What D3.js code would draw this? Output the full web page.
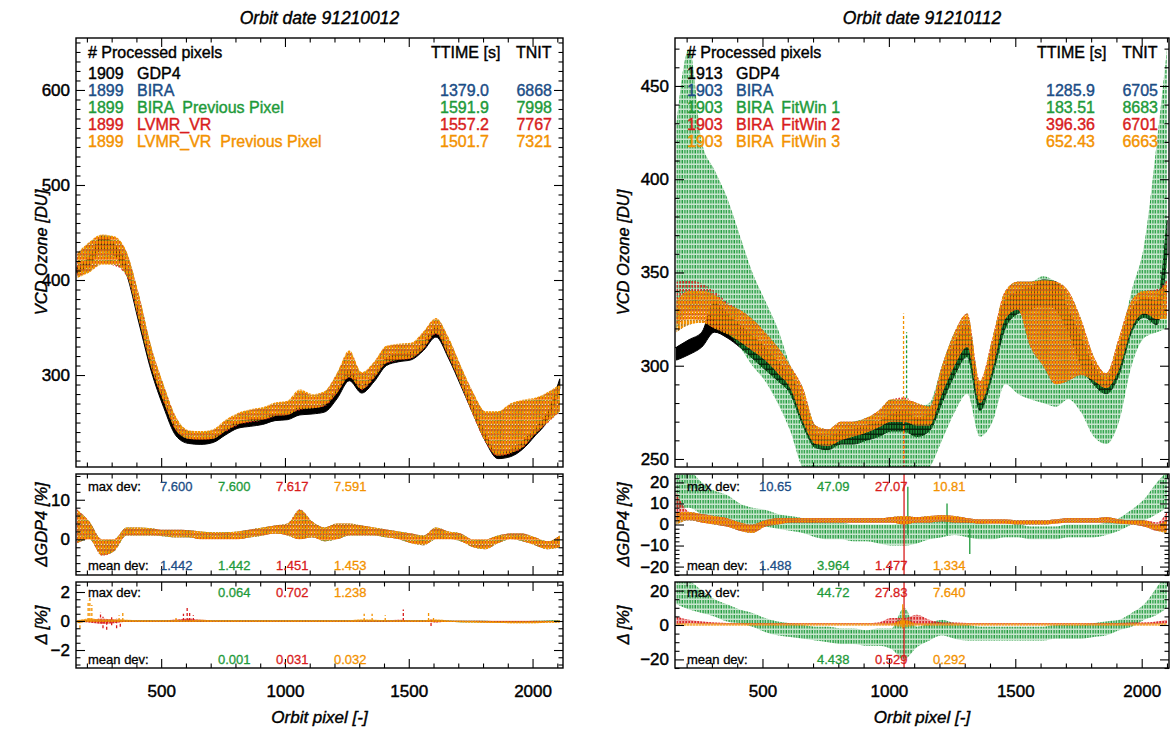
<!DOCTYPE html>
<html><head><meta charset="utf-8">
<script src="https://cdn.jsdelivr.net/npm/d3@7"></script>
<style>body{margin:0;background:#fff}</style>
</head><body>
<svg id="c" width="1171" height="729"></svg>
<script>
// ---------------- DATA ----------------
const titles = ["Orbit date 91210012", "Orbit date 91210112"];
const xTickLabels = [500, 1000, 1500, 2000];
const yTicksMainL = [300, 400, 500, 600];
const yTicksMainR = [250, 300, 350, 400, 450];
const yTicksP2L = [0, 10];
const yTicksP2R = [-20, -10, 0, 10, 20];
const yTicksP3L = [-2, 0, 2];
const yTicksP3R = [-20, 0, 20];

const countsL = ["1909", "1899", "1899", "1899", "1899"];
const namesL = ["GDP4", "BIRA", "BIRA  Previous Pixel", "LVMR_VR", "LVMR_VR  Previous Pixel"];
const ttimeL = ["", "1379.0", "1591.9", "1557.2", "1501.7"];
const tnitL = ["", "6868", "7998", "7767", "7321"];
const countsR = ["1913", "1903", "1903", "1903", "1903"];
const namesR = ["GDP4", "BIRA", "BIRA  FitWin 1", "BIRA  FitWin 2", "BIRA  FitWin 3"];
const ttimeR = ["", "1285.9", "183.51", "396.36", "652.43"];
const tnitR = ["", "6705", "8683", "6701", "6663"];

const maxDevP2L = ["7.600", "7.600", "7.617", "7.591"];
const meanDevP2L = ["1.442", "1.442", "1.451", "1.453"];
const maxDevP3L = ["", "0.064", "0.702", "1.238"];
const meanDevP3L = ["", "0.001", "0.031", "0.032"];
const maxDevP2R = ["10.65", "47.09", "27.07", "10.81"];
const meanDevP2R = ["1.488", "3.964", "1.477", "1.334"];
const maxDevP3R = ["", "44.72", "27.83", "7.640"];
const meanDevP3R = ["", "4.438", "0.529", "0.292"];

// orbit pixel bins (left / right orbit)
const pixL = [160,210,260,310,360,410,460,510,560,610,660,710,760,810,860,910,960,1010,1060,1110,1160,1210,1260,1310,1360,1410,1460,1510,1560,1610,1660,1710,1760,1810,1860,1910,1960,2010,2060,2110];
const pixR = [160,210,260,310,360,410,460,510,560,610,660,710,760,810,860,910,960,1010,1060,1110,1160,1210,1260,1310,1360,1410,1460,1510,1560,1610,1660,1710,1760,1810,1860,1910,1960,2010,2060,2100];

// ---- left orbit, VCD ozone [DU]: low / high envelope per bin
const gdp4L_lo = [407,416,432,426,406,355,304,266,236,228,227,229,237,244,246,248,252,253,258,259,261,275,294,281,293,310,314,316,326,340,318,289,259,230,212,214,222,236,252,286];
const gdp4L_hi = [414,424,446,438,416,366,314,276,244,234,233,235,244,251,253,255,259,260,266,267,269,285,306,289,301,318,322,324,334,350,327,297,267,238,218,221,230,244,260,296];
const biraL_lo = [403,409,417,416,405,358,308,272,242,233,232,233,241,248,251,253,257,258,264,265,268,281,298,285,297,313,316,318,328,344,320,290,258,230,215,218,224,238,250,262];
const biraL_hi = [427,439,447,445,429,384,329,289,255,241,240,242,252,259,263,265,270,272,283,279,282,301,324,302,313,330,332,333,345,359,339,309,281,261,261,269,273,275,281,289];
const biraPpL_lo = [403,409,417,416,405,358,308,272,242,233,232,233,241,248,251,253,257,258,264,265,268,281,298,285,297,313,316,318,328,344,320,290,258,230,215,218,224,238,250,262];
const biraPpL_hi = [427,439,447,445,429,384,329,289,255,241,240,242,252,259,263,265,270,272,283,279,282,301,324,302,313,330,332,333,345,359,339,309,281,261,261,269,273,275,281,289];
const lvmrL_lo = [403,409,417,415,404,357,307,271,241,233,231,233,240,247,250,252,256,258,263,265,267,280,297,284,296,312,315,317,327,343,319,289,257,229,214,217,223,237,249,261];
const lvmrL_hi = [427,439,447,445,429,384,329,289,255,241,240,242,252,259,263,265,270,272,283,279,282,301,324,302,313,330,332,333,345,359,339,309,281,261,261,269,273,275,281,289];
const lvmrPpL_lo = [402,408,416,416,405,358,308,272,242,233,232,233,241,248,251,253,257,258,264,265,268,281,298,285,297,313,316,318,328,344,320,290,258,230,215,218,224,238,250,262];
const lvmrPpL_hi = [428,440,448,446,430,385,330,290,256,242,241,243,253,260,264,266,271,273,285,280,283,302,326,303,314,331,333,334,346,360,340,310,282,262,262,270,274,276,282,290];

// ---- left orbit, deviation from GDP4 [%]
const biraP2L_lo = [-1,0,-4,-3,1,1,1,0.8,0.5,0.5,0,0,0,0,0.5,1,1.5,1,0,0.5,-0.5,0,1,1,1,0.5,0,-1,-1.5,0,0,-0.5,-2,-2.5,-1,0,-0.5,-1.5,-2.5,-2];
const biraP2L_hi = [7.5,4.5,0,0,3,3,2.8,2.4,2.4,2.3,2,1.8,1.8,2,2.5,3,3.5,4,7.5,4.5,3,4,4,3.5,3,2.5,2,1.5,1,3,2,1.5,0,0,1,1.5,1.5,0.5,-0.5,1];
const biraPpP2L_lo = [-1,0,-4,-3,1,1,1,0.8,0.5,0.5,0,0,0,0,0.5,1,1.5,1,0,0.5,-0.5,0,1,1,1,0.5,0,-1,-1.5,0,0,-0.5,-2,-2.5,-1,0,-0.5,-1.5,-2.5,-2];
const biraPpP2L_hi = [7.5,4.5,0,0,3,3,2.8,2.4,2.4,2.3,2,1.8,1.8,2,2.5,3,3.5,4,7.5,4.5,3,4,4,3.5,3,2.5,2,1.5,1,3,2,1.5,0,0,1,1.5,1.5,0.5,-0.5,1];
const lvmrP2L_lo = [-1,0,-4.2,-3,1,1,1,0.8,0.5,0.5,0,0,0,0,0.5,1,1.5,1,0,0.5,-0.5,0,1,1,1,0.5,0,-1,-1.5,0,0,-0.5,-2,-2.5,-1,0,-0.5,-1.5,-2.5,-2];
const lvmrP2L_hi = [7.6,4.5,0,0,3,3,2.8,2.4,2.4,2.3,2,1.8,1.8,2,2.5,3,3.5,4,7.6,4.5,3,4,4,3.5,3,2.5,2,1.5,1,3,2,1.5,0,0,1,1.5,1.5,0.5,-0.5,1];
const lvmrPpP2L_lo = [-1,0,-4,-3,1,1,1,0.8,0.5,0.5,0,0,0,0,0.5,1,1.5,1,0,0.5,-0.5,0,1,1,1,0.5,0,-1,-1.5,0,0,-0.5,-2,-2.5,-1,0,-0.5,-1.5,-2.5,-2];
const lvmrPpP2L_hi = [7.5,4.5,0,0,3,3,2.8,2.4,2.4,2.3,2,1.8,1.8,2,2.5,3,3.5,4,7.5,4.5,3,4,4,3.5,3,2.5,2,1.5,1,3,2,1.5,0,0,1,1.5,1.5,0.5,-0.5,1];

// ---- left orbit, deviation from BIRA [%] (baseline envelope + isolated spikes [pixel, low, high])
const biraPpP3L_lo = [-0.05,-0.05,-0.05,-0.05,-0.05,-0.05,-0.05,-0.05,-0.05,-0.05,-0.05,-0.05,-0.05,-0.05,-0.05,-0.05,-0.05,-0.05,-0.05,-0.05,-0.05,-0.05,-0.05,-0.05,-0.05,-0.05,-0.05,-0.05,-0.05,-0.05,-0.05,-0.08,-0.08,-0.08,-0.1,-0.1,-0.1,-0.08,-0.06,-0.05];
const biraPpP3L_hi = [0.06,0.06,0.06,0.06,0.06,0.06,0.06,0.06,0.06,0.06,0.06,0.06,0.06,0.06,0.06,0.06,0.06,0.06,0.06,0.06,0.06,0.06,0.06,0.06,0.06,0.06,0.06,0.06,0.06,0.06,0.04,0.02,0.02,0.02,0,0,0,0.02,0.04,0.05];
const lvmrP3L_lo = [-0.05,-0.1,-0.2,-0.15,-0.05,-0.05,-0.05,-0.05,-0.05,-0.05,-0.05,-0.05,-0.05,-0.05,-0.05,-0.05,-0.05,-0.05,-0.05,-0.05,-0.05,-0.05,-0.05,-0.05,-0.05,-0.05,-0.05,-0.05,-0.05,-0.1,-0.05,-0.05,-0.05,-0.08,-0.08,-0.08,-0.08,-0.08,-0.06,-0.05];
const lvmrP3L_hi = [0.05,0.08,0.15,0.1,0.06,0.05,0.05,0.05,0.1,0.15,0.08,0.05,0.05,0.05,0.05,0.05,0.05,0.05,0.05,0.05,0.05,0.05,0.05,0.05,0.05,0.05,0.08,0.05,0.05,0.05,0.04,0.03,0.03,0.02,0.02,0.02,0.02,0.02,0.02,0.04];
const lvmrPpP3L_lo = [-0.15,-0.05,-0.05,-0.05,-0.05,-0.05,-0.05,-0.05,-0.05,-0.05,-0.03,-0.05,-0.05,-0.05,-0.05,-0.05,-0.05,-0.05,-0.05,-0.05,-0.05,-0.05,-0.05,-0.03,-0.03,-0.03,-0.05,-0.05,-0.05,-0.06,-0.06,-0.08,-0.1,-0.12,-0.14,-0.15,-0.16,-0.15,-0.12,-0.1];
const lvmrPpP3L_hi = [0.05,0.15,0.1,0.1,0.08,0.05,0.05,0.05,0.05,0.05,0.08,0.05,0.05,0.05,0.05,0.05,0.05,0.05,0.05,0.05,0.05,0.05,0.05,0.1,0.08,0.06,0.05,0.05,0.05,0.1,0.04,0.02,0.0,-0.02,-0.03,-0.03,-0.04,-0.03,-0.02,0.03];
const lvmrSpikesP3L = [[255, -0.1, 0.6], [265, -0.5, 0.3], [280, -0.6, 0.1], [300, -0.3, 0.4], [320, -0.5, 0.2], [335, -0.4, 0.0], [590, 0, 0.5], [605, 0, 0.9], [615, 0, 0.6], [630, 0, 0.4], [1478, 0, 0.8], [1590, -0.35, 0.1]];
const lvmrPpSpikesP3L = [[172, -0.5, 0], [205, 0, 1.4], [212, 0, 1.6], [220, 0, 1.1], [330, 0, 0.4], [345, 0, 0.6], [560, 0, 0.2], [1320, 0, 0.5], [1352, 0, 0.5], [1405, 0, 0.4], [1580, 0, 0.6], [1600, 0, 0.3]];

// ---- right orbit, VCD ozone [DU]
const gdp4R_lo = [303,306,310,318,315,310,304,298,292,285,268,256,255,258,258,260,262,265,265,262,265,280,295,305,276,295,320,328,330,333,330,318,300,290,285,295,318,326,322,360];
const gdp4R_hi = [310,314,318,334,328,322,316,310,302,295,280,263,262,265,266,268,270,274,276,272,274,295,312,322,286,310,335,340,342,346,345,330,315,300,292,310,330,336,335,378];
const biraR_lo = [318,322,323,320,317,313,308,303,296,288,270,258,257,260,262,264,267,270,270,268,268,285,300,310,280,298,325,330,310,300,290,292,295,292,288,298,320,328,325,325];
const biraR_hi = [335,340,340,338,333,330,325,318,310,300,288,268,266,270,270,272,276,282,282,280,278,300,318,328,292,315,340,345,345,346,345,340,325,305,296,315,335,340,340,345];
const fw1R_lo = [320,330,330,325,318,310,300,292,280,265,245,240,240,240,240,240,242,242,240,240,245,260,275,285,262,270,290,285,282,280,278,282,275,262,258,270,300,315,318,320];
const fw1R_hi = [430,470,420,405,390,370,350,335,320,300,285,268,265,268,270,272,275,282,282,278,280,300,318,325,290,312,338,345,345,348,345,338,322,300,295,310,340,365,420,470];
const fw2R_lo = [322,325,324,320,318,313,308,303,296,288,270,258,257,260,262,264,267,270,270,268,268,285,300,310,280,298,325,330,310,300,290,292,295,292,288,298,320,328,325,326];
const fw2R_hi = [345,346,344,340,334,330,325,318,310,300,288,268,266,270,270,272,276,282,283,280,278,300,318,328,292,315,340,345,345,346,345,340,325,305,296,315,335,340,341,346];
const fw3R_lo = [318,322,323,320,317,313,308,303,296,288,270,258,257,260,262,264,267,270,270,268,268,285,300,310,280,298,325,330,310,300,290,292,295,292,288,298,320,328,325,325];
const fw3R_hi = [335,340,340,338,333,330,325,318,310,300,288,268,266,270,270,272,276,282,282,280,278,300,318,328,292,315,340,345,345,346,345,340,325,305,296,315,335,340,340,345];

// ---- right orbit, deviation from GDP4 [%]
const biraP2R_lo = [0,2,1,0,-1,-3,-4,-1,0,1,1,1,1,1,1,1,1,1,0,1,1,1.5,1,1,0.5,0.5,0.5,0,0,0,0.5,1,1,1,1,0.5,0,-1,-3,-4];
const biraP2R_hi = [6,6,5,4,3,1,0,2,3,3,3,3,3,3,3,3,3,3.5,4,3.5,4,4.5,4,3,2.5,2.5,2.5,2,2,2,2.5,3,3,3,3.5,2.5,2,2,0,2];
const fw1P2R_lo = [8,8,5,4,3,1,0,-1,-2,-3,-4,-6,-7,-7,-8,-8,-9,-10,-10,-9,-7,-6,-5,-6,-7,-7,-6,-6,-7,-7,-7,-6,-6,-6,-5,-3,0,2,5,8];
const fw1P2R_hi = [25,25,20,16,14,10,8,7,5,4,3,2,1,1,0,0,0,0,1,1,1,2,3,2,1,0,0,0,-1,-1,-1,0,0,0,1,3,7,12,20,25];
const fw2P2R_lo = [2,2,1,0,-1,-3,-4,-1,0,1,1,1,1,1,1,1,1,1,0,1,1,1.5,1,1,0.5,0.5,0.5,0,0,0,0.5,1,1,1,1,0.5,0,-1,-3,-3];
const fw2P2R_hi = [15,6,5,4,3,1,0,2,3,3,3,3,3,3,3,3,3,3.5,4,3.5,4,4.5,4,3,2.5,2.5,2.5,2,2,2,2.5,3,3,3,3.5,2.5,2,2,1,6];
const fw3P2R_lo = [0,2,1,0,-1,-3,-4,-1,0,1,1,1,1,1,1,1,1,1,0,1,1,1.5,1,1,0.5,0.5,0.5,0,0,0,0.5,1,1,1,1,0.5,0,-1,-3,-4];
const fw3P2R_hi = [6,6,5,4,3,1,0,2,3,3,3,3,3,3,3,3,3,3.5,4,3.5,4,4.5,4,3,2.5,2.5,2.5,2,2,2,2.5,3,3,3,3.5,2.5,2,2,0,2];

// ---- right orbit, deviation from BIRA [%]
const fw1P3R_lo = [12,9,7,5,2,1,-1,-4,-6,-7,-8,-9,-10,-11,-11,-12,-12,-14,-20,-13,-9,-6,-8,-9,-9,-9,-9,-9,-9,-9,-8,-8,-8,-7,-6,-3,-1,3,6,10];
const fw1P3R_hi = [30,26,20,15,12,9,7,4,2,1,0,-1,-1,-2,-2,-3,-2,-2,10,-1,1,3,1,0,-1,-1,-1,-1,-1,-1,0,0,0,1,2,3,7,12,22,30];
const fw2P3R_lo = [0,1,0.5,0.2,0.2,0.2,0.2,0.2,0.2,0.2,0.2,0.2,0.2,0.2,0.2,0.2,0.2,0,0,0,0.2,0.2,0.2,0.2,0.2,0.2,0.2,0.2,0.2,0.2,0.2,0.2,0.2,0.2,0.2,0.2,0.2,0.2,0.5,1];
const fw2P3R_hi = [5,3,2,1.5,1.2,1.2,1.2,1.2,1.2,1.2,1.2,1.2,1.2,1.2,1.2,1.2,1.5,4,4,6,3,1.5,1.5,1.2,1.2,1.2,1.2,1.2,1.2,1.2,1.2,1.2,1.2,1.2,1.2,1.2,1.5,1.5,2,3];
const fw3P3R_lo = [-0.5,-0.5,-0.5,-0.5,-0.5,-0.5,-0.5,-0.5,-0.5,-0.5,-0.5,-0.5,-0.5,-0.5,-0.5,-0.5,-0.5,-0.5,-1,-0.5,-0.5,-0.5,-0.5,-0.5,-0.5,-0.5,-0.5,-0.5,-0.5,-0.5,-0.5,-0.5,-0.5,-0.5,-0.5,-0.5,-0.5,-0.5,-0.5,-0.5];
const fw3P3R_hi = [0.8,0.8,0.8,0.8,0.8,0.8,0.8,0.8,0.8,0.8,0.8,0.8,0.8,0.8,0.8,0.8,0.8,0.8,3,0.8,0.8,0.8,0.8,0.8,0.8,0.8,0.8,0.8,0.8,0.8,0.8,0.8,0.8,0.8,0.8,0.8,0.8,0.8,0.8,0.8];

// isolated vertical spikes: [orbit pixel, low, high]
const fw2SpikesMainR = [[1060, 245, 282]];
const fw3SpikesMainR = [[1058, 250, 328]];
const fw1SpikesMainR = [[1070, 245, 318]];
const fw2SpikesP2R = [[1060, -24, 24]];
const fw1SpikesP2R = [[1075, -5, 18], [1230, -5, 10], [1320, -14, -2]];
const fw2SpikesP3R = [[1060, -25, 25]];
const fw3SpikesP3R = [[1055, -2, 12]];

// ---------------- DRAWING ----------------
const FONT = "'Liberation Sans', Arial, Helvetica, sans-serif";
const COL = {black: "#000000", blue: "#1b4d86", green: "#1e9a3a", red: "#d81c1c", orange: "#f39200"};
const svg = d3.select("#c");
const defs = svg.append("defs");

function pattern(id, color, w, h, rx, ry, rw, rh) {
  const p = defs.append("pattern").attr("id", id).attr("patternUnits", "userSpaceOnUse")
    .attr("width", w).attr("height", h);
  p.append("rect").attr("x", rx).attr("y", ry).attr("width", rw).attr("height", rh).attr("fill", color);
}
pattern("p-blue", COL.blue, 3, 4, 0, 0, 1.5, 3);
pattern("p-green", COL.green, 2.6, 5, 0.4, 0, 1.3, 3.5);
pattern("p-red", COL.red, 3, 4, 1.4, 1, 1.5, 2.6);
pattern("p-orange", COL.orange, 3, 5, 0, 0.5, 2, 4);

const L = {x0: 76, x1: 563}, R = {x0: 675, x1: 1169};
const MAIN = {y0: 38, y1: 467}, P2 = {y0: 474, y1: 575}, P3 = {y0: 582, y1: 668};

const xL = d3.scaleLinear().domain([156, 2123]).range([L.x0, L.x1]);
const xR = d3.scaleLinear().domain([154, 2108]).range([R.x0, R.x1]);
const yMainL = d3.scaleLinear().domain([203.2, 654.7]).range([MAIN.y1, MAIN.y0]);
const yMainR = d3.scaleLinear().domain([245.7, 475.7]).range([MAIN.y1, MAIN.y0]);
const yP2L = d3.scaleLinear().domain([-9, 16.5]).range([P2.y1, P2.y0]);
const yP2R = d3.scaleLinear().domain([-24, 24]).range([P2.y1, P2.y0]);
const yP3L = d3.scaleLinear().domain([-3.24, 2.69]).range([P3.y1, P3.y0]);
const yP3R = d3.scaleLinear().domain([-25, 25]).range([P3.y1, P3.y0]);

let clipN = 0;
function panel(col, rows) {
  const id = "clip" + (clipN++);
  defs.append("clipPath").attr("id", id).append("rect")
    .attr("x", col.x0).attr("y", rows.y0).attr("width", col.x1 - col.x0).attr("height", rows.y1 - rows.y0);
  return svg.append("g").attr("clip-path", `url(#${id})`);
}

function band(g, x, y, pix, lo, hi, color, patId, under) {
  const data = pix.map((p, i) => ({p, lo: lo[i], hi: hi[i]}));
  const area = d3.area().x(d => x(d.p)).y0(d => y(d.lo)).y1(d => y(d.hi)).curve(d3.curveMonotoneX);
  if (under > 0) g.append("path").datum(data).attr("d", area).attr("fill", color).attr("fill-opacity", under);
  g.append("path").datum(data).attr("d", area).attr("fill", `url(#${patId})`);
}
function solidBand(g, x, y, pix, lo, hi, color) {
  const data = pix.map((p, i) => ({p, lo: lo[i], hi: hi[i]}));
  const area = d3.area().x(d => x(d.p)).y0(d => y(d.lo)).y1(d => y(d.hi)).curve(d3.curveMonotoneX);
  g.append("path").datum(data).attr("d", area).attr("fill", color).attr("stroke", color).attr("stroke-width", 1);
}
function spikes(g, x, y, list, color, dash) {
  g.selectAll(null).data(list).enter().append("line")
    .attr("x1", d => x(d[0])).attr("x2", d => x(d[0]))
    .attr("y1", d => y(d[1])).attr("y2", d => y(d[2]))
    .attr("stroke", color).attr("stroke-width", 1.3).attr("stroke-dasharray", dash ? "3,2" : null);
}

function axes(col, rows, x, y, yMajor, yMinorStep, showX) {
  const g = svg.append("g");
  const [d0, d1] = x.domain();
  const xMinor = d3.range(Math.ceil(d0 / 100) * 100, d1, 100).filter(v => v % 500 !== 0);
  const [e0, e1] = y.domain();
  const yMinor = d3.range(Math.ceil(e0 / yMinorStep) * yMinorStep, e1, yMinorStep)
    .filter(v => !yMajor.some(m => Math.abs(m - v) < 1e-6));
  const mk = (axis, tx, ty, values, size, labels) => {
    const a = g.append("g").attr("transform", `translate(${tx},${ty})`)
      .call(axis.tickValues(values).tickSize(-size).tickPadding(labels ? 6 : 0)
        .tickFormat(labels ? d3.format("d") : ""));
    a.select(".domain").remove();
    a.selectAll("line").attr("stroke", "#000").attr("stroke-width", 1.1);
    a.attr("font-family", FONT).attr("font-size", 17);
    a.selectAll("text").attr("stroke", "#000").attr("stroke-width", 0.45);
    return a;
  };
  const xMaj = xTickLabels;
  mk(d3.axisTop(x), 0, rows.y0, xMaj, 9, false);
  mk(d3.axisTop(x), 0, rows.y0, xMinor, 4.5, false);
  const bx = mk(d3.axisBottom(x), 0, rows.y1, xMaj, 9, showX);
  if (showX) bx.selectAll("text").attr("y", 17);
  mk(d3.axisBottom(x), 0, rows.y1, xMinor, 4.5, false);
  mk(d3.axisLeft(y), col.x0, 0, yMajor, 9, true);
  mk(d3.axisLeft(y), col.x0, 0, yMinor, 4.5, false);
  mk(d3.axisRight(y), col.x1, 0, yMajor, 9, false);
  mk(d3.axisRight(y), col.x1, 0, yMinor, 4.5, false);
  g.append("rect").attr("x", col.x0).attr("y", rows.y0).attr("width", col.x1 - col.x0)
    .attr("height", rows.y1 - rows.y0).attr("fill", "none").attr("stroke", "#000").attr("stroke-width", 1.4);
}

function text(x, y, s, opt = {}) {
  const c = opt.color || "#000";
  return svg.append("text").attr("x", x).attr("y", y).text(s)
    .attr("font-family", FONT).attr("font-size", opt.size || 16)
    .attr("font-style", opt.italic ? "italic" : null)
    .attr("text-anchor", opt.anchor || "start")
    .attr("fill", c).attr("stroke", c).attr("stroke-width", opt.sw === undefined ? 0.4 : opt.sw)
    .style("white-space", "pre");
}
function vtitle(x, y, s) {
  svg.append("text").attr("transform", `translate(${x},${y}) rotate(-90)`).text(s)
    .attr("font-family", FONT).attr("font-size", 16.5).attr("font-style", "italic")
    .attr("fill", "#000").attr("stroke", "#000").attr("stroke-width", 0.4)
    .attr("text-anchor", "middle").attr("dominant-baseline", "central");
}

// ===== LEFT COLUMN =====
{
  const g = panel(L, MAIN);
  solidBand(g, xL, yMainL, pixL, gdp4L_lo, gdp4L_hi, COL.black);
  band(g, xL, yMainL, pixL, biraL_lo, biraL_hi, COL.blue, "p-blue", 0);
  band(g, xL, yMainL, pixL, biraPpL_lo, biraPpL_hi, COL.green, "p-green", 0);
  band(g, xL, yMainL, pixL, lvmrL_lo, lvmrL_hi, COL.red, "p-red", 0);
  band(g, xL, yMainL, pixL, lvmrPpL_lo, lvmrPpL_hi, COL.orange, "p-orange", 0.35);
  const g2 = panel(L, P2);
  band(g2, xL, yP2L, pixL, biraP2L_lo, biraP2L_hi, COL.blue, "p-blue", 0);
  band(g2, xL, yP2L, pixL, biraPpP2L_lo, biraPpP2L_hi, COL.green, "p-green", 0);
  band(g2, xL, yP2L, pixL, lvmrP2L_lo, lvmrP2L_hi, COL.red, "p-red", 0);
  band(g2, xL, yP2L, pixL, lvmrPpP2L_lo, lvmrPpP2L_hi, COL.orange, "p-orange", 0.35);
  const g3 = panel(L, P3);
  band(g3, xL, yP3L, pixL, biraPpP3L_lo, biraPpP3L_hi, COL.green, "p-green", 0.6);
  band(g3, xL, yP3L, pixL, lvmrP3L_lo, lvmrP3L_hi, COL.red, "p-red", 0.5);
  spikes(g3, xL, yP3L, lvmrSpikesP3L, COL.red, true);
  band(g3, xL, yP3L, pixL, lvmrPpP3L_lo, lvmrPpP3L_hi, COL.orange, "p-orange", 0.6);
  spikes(g3, xL, yP3L, lvmrPpSpikesP3L, COL.orange, true);
  axes(L, MAIN, xL, yMainL, yTicksMainL, 10, false);
  axes(L, P2, xL, yP2L, yTicksP2L, 2, false);
  axes(L, P3, xL, yP3L, yTicksP3L, 0.5, true);
}
// ===== RIGHT COLUMN =====
{
  const g = panel(R, MAIN);
  solidBand(g, xR, yMainR, pixR, gdp4R_lo, gdp4R_hi, COL.black);
  band(g, xR, yMainR, pixR, fw1R_lo, fw1R_hi, COL.green, "p-green", 0.25);
  spikes(g, xR, yMainR, fw1SpikesMainR, COL.green, true);
  band(g, xR, yMainR, pixR, biraR_lo, biraR_hi, COL.blue, "p-blue", 0);
  band(g, xR, yMainR, pixR, fw2R_lo, fw2R_hi, COL.red, "p-red", 0);
  spikes(g, xR, yMainR, fw2SpikesMainR, COL.red, true);
  band(g, xR, yMainR, pixR, fw3R_lo, fw3R_hi, COL.orange, "p-orange", 0.35);
  spikes(g, xR, yMainR, fw3SpikesMainR, COL.orange, true);
  const g2 = panel(R, P2);
  band(g2, xR, yP2R, pixR, fw1P2R_lo, fw1P2R_hi, COL.green, "p-green", 0.25);
  spikes(g2, xR, yP2R, fw1SpikesP2R, COL.green, false);
  band(g2, xR, yP2R, pixR, biraP2R_lo, biraP2R_hi, COL.blue, "p-blue", 0.3);
  band(g2, xR, yP2R, pixR, fw2P2R_lo, fw2P2R_hi, COL.red, "p-red", 0.3);
  spikes(g2, xR, yP2R, fw2SpikesP2R, COL.red, false);
  band(g2, xR, yP2R, pixR, fw3P2R_lo, fw3P2R_hi, COL.orange, "p-orange", 0.4);
  const g3 = panel(R, P3);
  band(g3, xR, yP3R, pixR, fw1P3R_lo, fw1P3R_hi, COL.green, "p-green", 0.25);
  band(g3, xR, yP3R, pixR, fw2P3R_lo, fw2P3R_hi, COL.red, "p-red", 0.4);
  spikes(g3, xR, yP3R, fw2SpikesP3R, COL.red, false);
  band(g3, xR, yP3R, pixR, fw3P3R_lo, fw3P3R_hi, COL.orange, "p-orange", 0.4);
  spikes(g3, xR, yP3R, fw3SpikesP3R, COL.orange, false);
  axes(R, MAIN, xR, yMainR, yTicksMainR, 10, false);
  axes(R, P2, xR, yP2R, yTicksP2R, 2, false);
  axes(R, P3, xR, yP3R, yTicksP3R, 5, true);
}

// ===== TEXTS =====
const serColors = [COL.black, COL.blue, COL.green, COL.red, COL.orange];
function legend(col, counts, names, ttime, tnit) {
  text(col.x0 + 12, 58, "# Processed pixels");
  text(col.x1 - 132, 58, "TTIME [s]");
  text(col.x1 - 47, 58, "TNIT");
  counts.forEach((c, i) => {
    const y = 79 + i * 17;
    text(col.x0 + 12, y, c, {color: serColors[i]});
    text(col.x0 + 61, y, names[i], {color: serColors[i]});
    if (ttime[i]) text(col.x1 - 74, y, ttime[i], {color: serColors[i], anchor: "end"});
    if (tnit[i]) text(col.x1 - 11, y, tnit[i], {color: serColors[i], anchor: "end"});
  });
}
legend(L, countsL, namesL, ttimeL, tnitL);
legend(R, countsR, namesR, ttimeR, tnitR);

function stats(col, rows, maxv, meanv, yMax, yMean) {
  text(col.x0 + 12, yMax, "max dev:", {size: 13, sw: 0.3});
  text(col.x0 + 12, yMean, "mean dev:", {size: 13, sw: 0.3});
  maxv.forEach((v, i) => { if (v) text(col.x0 + 84 + i * 58, yMax, v, {size: 13, sw: 0.3, color: serColors[i + 1]}); });
  meanv.forEach((v, i) => { if (v) text(col.x0 + 84 + i * 58, yMean, v, {size: 13, sw: 0.3, color: serColors[i + 1]}); });
}
stats(L, P2, maxDevP2L, meanDevP2L, 491, 570);
stats(R, P2, maxDevP2R, meanDevP2R, 491, 570);
stats(L, P3, maxDevP3L, meanDevP3L, 597, 664);
stats(R, P3, maxDevP3R, meanDevP3R, 597, 664);

text((L.x0 + L.x1) / 2, 24, titles[0], {size: 17.5, italic: true, anchor: "middle"});
text((R.x0 + R.x1) / 2, 24, titles[1], {size: 17.5, italic: true, anchor: "middle"});
text((L.x0 + L.x1) / 2, 723, "Orbit pixel [-]", {size: 17, italic: true, anchor: "middle"});
text((R.x0 + R.x1) / 2, 723, "Orbit pixel [-]", {size: 17, italic: true, anchor: "middle"});
vtitle(41, (MAIN.y0 + MAIN.y1) / 2, "VCD Ozone [DU]");
vtitle(41, (P2.y0 + P2.y1) / 2, "ΔGDP4 [%]");
vtitle(41, (P3.y0 + P3.y1) / 2, "Δ [%]");
vtitle(623, (MAIN.y0 + MAIN.y1) / 2, "VCD Ozone [DU]");
vtitle(623, (P2.y0 + P2.y1) / 2, "ΔGDP4 [%]");
vtitle(623, (P3.y0 + P3.y1) / 2, "Δ [%]");
</script>
</body></html>
